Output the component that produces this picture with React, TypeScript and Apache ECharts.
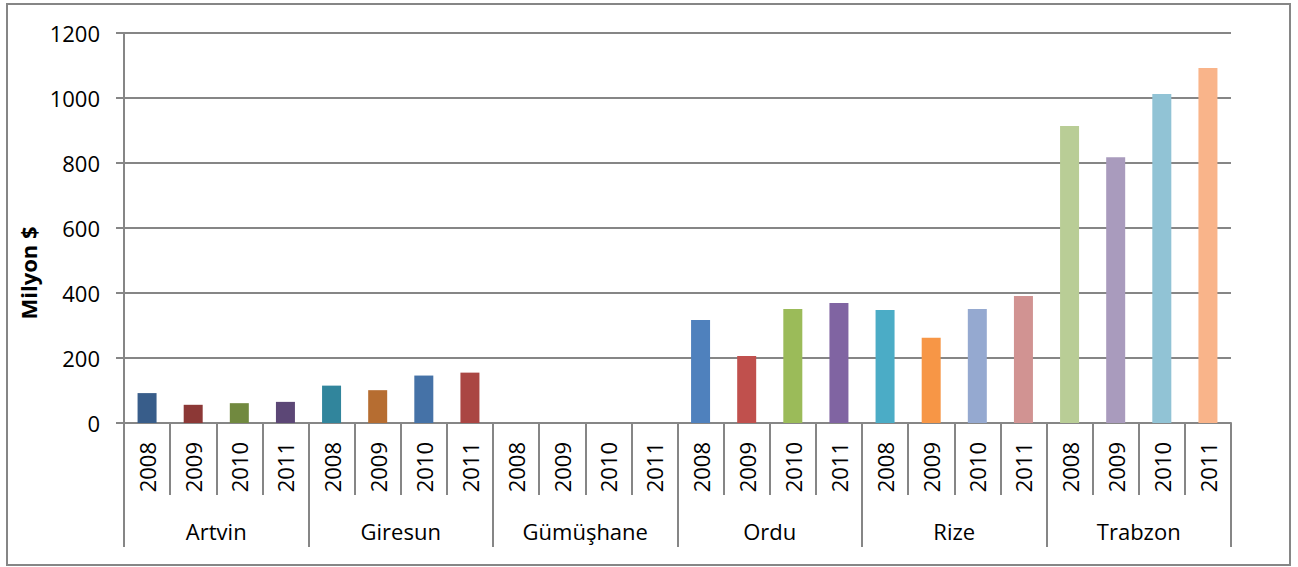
import React, { useEffect, useRef } from "react";
import * as echarts from "echarts";

const provinces = ["Artvin", "Giresun", "Gümüşhane", "Ordu", "Rize", "Trabzon"];
const years = ["2008", "2009", "2010", "2011"];
const artvin = [92, 56, 61, 65];
const giresun = [115, 101, 146, 155];
const gumushane = [0, 0, 0, 0];
const ordu = [317, 206, 351, 369];
const rize = [348, 262, 351, 391];
const trabzon = [914, 818, 1012, 1092];
const barColors = [
  "#385D8A", "#8C3836", "#71893F", "#5C4776",
  "#31859C", "#B66D31", "#4572A7", "#AA4643",
  "#4F81BD", "#C0504D", "#9BBB59", "#8064A2",
  "#4F81BD", "#C0504D", "#9BBB59", "#8064A2",
  "#4BACC6", "#F79646", "#95A9D0", "#D19392",
  "#B9CD96", "#A99BBD", "#91C3D5", "#F9B48A",
];
const yTicks = [0, 200, 400, 600, 800, 1000, 1200];

const FONT = "Open Sans";
const GRAY = "#868686";

export default function App() {
  const ref = useRef<HTMLDivElement>(null);
  useEffect(() => {
    if (!ref.current) return;
    const chart = echarts.init(ref.current, null, { renderer: "svg" });
    const allValues = [...artvin, ...giresun, ...gumushane, ...ordu, ...rize, ...trabzon];
    const cats: string[] = [];
    provinces.forEach(() => years.forEach((y) => cats.push(y)));
    chart.setOption({
      animation: false,
      backgroundColor: "#ffffff",
      textStyle: { fontFamily: FONT },
      grid: { left: 124, right: 67, top: 33, bottom: 144, containLabel: false },
      xAxis: [
        {
          type: "category",
          data: cats,
          position: "bottom",
          axisLine: { show: true, lineStyle: { color: GRAY, width: 2 } },
          axisTick: { show: true, interval: 0, length: 72, lineStyle: { color: GRAY, width: 2 } },
          axisLabel: { interval: 0, rotate: 90, margin: 19, fontSize: 22, color: "#000", fontFamily: FONT },
          splitLine: { show: false },
        },
        {
          type: "category",
          data: provinces,
          position: "bottom",
          axisLine: { show: false },
          axisTick: { show: true, interval: 0, length: 124, lineStyle: { color: GRAY, width: 2 } },
          axisLabel: { interval: 0, margin: 97, fontSize: 22, color: "#000", fontFamily: FONT },
          splitLine: { show: false },
        },
      ],
      yAxis: {
        type: "value",
        min: yTicks[0],
        max: yTicks[yTicks.length - 1],
        interval: 200,
        axisLine: { show: true, lineStyle: { color: GRAY, width: 2 } },
        axisTick: { show: true, length: 8, lineStyle: { color: GRAY, width: 2 } },
        axisLabel: {
          margin: 24,
          fontSize: 22,
          color: "#000",
          fontFamily: FONT,
          formatter: (v: number) => String(v),
        },
        splitLine: { show: true, lineStyle: { color: GRAY, width: 2 } },
      },
      series: [
        {
          type: "bar",
          xAxisIndex: 0,
          barWidth: 19,
          data: allValues.map((v, i) => ({ value: v, itemStyle: { color: barColors[i] } })),
        },
      ],
      graphic: [
        {
          type: "rect",
          shape: { x: 7, y: 4, width: 1283, height: 561 },
          style: { fill: "none", stroke: GRAY, lineWidth: 2 },
          silent: true,
        },
        {
          type: "text",
          x: 28,
          y: 273,
          rotation: Math.PI / 2,
          style: {
            text: "Milyon $",
            fontSize: 22,
            fontWeight: "bold",
            fontFamily: FONT,
            fill: "#000",
            align: "center",
            verticalAlign: "middle",
          },
        },
      ],
    });
    return () => chart.dispose();
  }, []);
  return (
    <div
      ref={ref}
      style={{ position: "fixed", left: 0, top: 0, width: 1298, height: 567 }}
    />
  );
}
